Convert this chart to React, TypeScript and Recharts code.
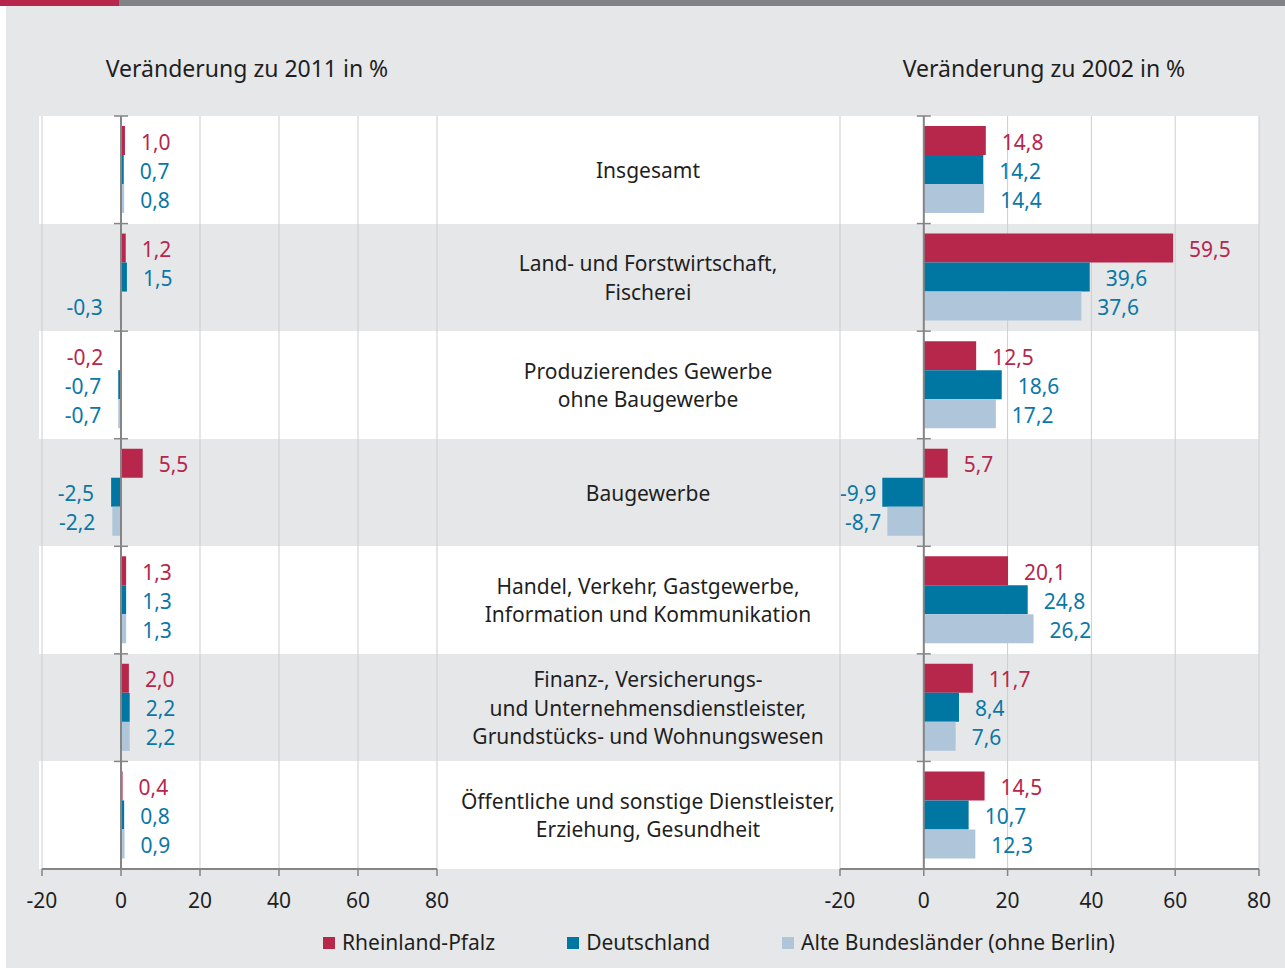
import React from 'react';
import { BarChart, Bar, XAxis, YAxis, CartesianGrid, ReferenceLine, LabelList } from 'recharts';

const categories = [
  'Insgesamt',
  'Land- und Forstwirtschaft,\nFischerei',
  'Produzierendes Gewerbe\nohne Baugewerbe',
  'Baugewerbe',
  'Handel, Verkehr, Gastgewerbe,\nInformation und Kommunikation',
  'Finanz-, Versicherungs-\nund Unternehmensdienstleister,\nGrundstücks- und Wohnungswesen',
  'Öffentliche und sonstige Dienstleister,\nErziehung, Gesundheit',
];

// Veränderung zu 2011 in %
const rlp2011 = [1.0, 1.2, -0.2, 5.5, 1.3, 2.0, 0.4];
const de2011 = [0.7, 1.5, -0.7, -2.5, 1.3, 2.2, 0.8];
const abl2011 = [0.8, -0.3, -0.7, -2.2, 1.3, 2.2, 0.9];

// Veränderung zu 2002 in %
const rlp2002 = [14.8, 59.5, 12.5, 5.7, 20.1, 11.7, 14.5];
const de2002 = [14.2, 39.6, 18.6, -9.9, 24.8, 8.4, 10.7];
const abl2002 = [14.4, 37.6, 17.2, -8.7, 26.2, 7.6, 12.3];

const xTicks = [-20, 0, 20, 40, 60, 80];
const seriesNames = ['Rheinland-Pfalz', 'Deutschland', 'Alte Bundesländer (ohne Berlin)'];

const RED = '#b7264b';
const BLUE = '#0076a3';
const LIGHT = '#aec5da';
const LABEL_BLUE = '#0a78a7';
const AXIS = '#858585';
const TEXT = '#1f1f1f';
const BG = '#e6e7e9';
const seriesColors = [RED, BLUE, LIGHT];

const PLOT_TOP = 116;
const PLOT_BOTTOM = 869;
const CHART_H = 930;
const XAXIS_H = 50;

const data2011 = categories.map((cat, i) => ({ cat, rlp: rlp2011[i], de: de2011[i], abl: abl2011[i] }));
const data2002 = categories.map((cat, i) => ({ cat, rlp: rlp2002[i], de: de2002[i], abl: abl2002[i] }));

const fmt = (v: number) => v.toFixed(1).replace('.', ',');

const makeLabel = (color: string, negOffset: number) => (props: any) => {
  const { x, y, width, height, value } = props;
  const v = Number(value);
  const a = Number(x);
  const b = Number(x) + Number(width);
  const neg = v < 0;
  const end = neg ? Math.min(a, b) : Math.max(a, b);
  return (
    <text
      x={neg ? end - negOffset : end + 16}
      y={Number(y) + Number(height) / 2 + 1}
      textAnchor={neg ? 'end' : 'start'}
      dominantBaseline="central"
      fontSize={21}
      fill={color}
    >
      {fmt(v)}
    </text>
  );
};

const ZeroAxis = (props: any) => {
  const { x1, y1, x2, y2 } = props;
  const n = categories.length;
  const ticks = [];
  for (let i = 0; i <= n; i++) {
    const y = y1 + ((y2 - y1) * i) / n;
    ticks.push(<line key={i} x1={x1 - 7} x2={x1 + 7} y1={y} y2={y} stroke={AXIS} strokeWidth={1.5} />);
  }
  return (
    <g>
      <line x1={x1} y1={y1} x2={x2} y2={y2} stroke={AXIS} strokeWidth={2} />
      {ticks}
    </g>
  );
};

const CategoryTick = (props: any) => {
  const { y, payload } = props;
  const lines = String(payload.value).split('\n');
  const lh = 28.5;
  const start = y - ((lines.length - 1) * lh) / 2;
  return (
    <text x={211} y={start} textAnchor="middle" fontSize={21} fill={TEXT}>
      {lines.map((l, i) => (
        <tspan key={i} x={211} y={start + i * lh} dominantBaseline="central">
          {l}
        </tspan>
      ))}
    </text>
  );
};

function Panel({ data, negOffset, withCats }: { data: any[]; negOffset: number; withCats: boolean }) {
  const width = withCats ? 848 : 460;
  const margin = withCats
    ? { top: PLOT_TOP, right: 26, left: 0, bottom: CHART_H - PLOT_BOTTOM - XAXIS_H }
    : { top: PLOT_TOP, right: 23, left: 42, bottom: CHART_H - PLOT_BOTTOM - XAXIS_H };
  return (
    <BarChart
      width={width}
      height={CHART_H}
      data={data}
      layout="vertical"
      margin={margin}
      barCategoryGap={10}
      barGap={0}
    >
      <CartesianGrid horizontal={false} stroke="#cdcdcd" />
      <XAxis
        type="number"
        domain={[-20, 80]}
        ticks={xTicks}
        height={XAXIS_H}
        axisLine={{ stroke: AXIS, strokeWidth: 2 }}
        tickLine={{ stroke: AXIS, strokeWidth: 1.5 }}
        tickSize={7}
        tickMargin={17}
        tick={{ fill: TEXT, fontSize: 21 }}
        allowDataOverflow
      />
      <YAxis
        type="category"
        dataKey="cat"
        hide={!withCats}
        width={withCats ? 403 : 0}
        axisLine={false}
        tickLine={false}
        tick={<CategoryTick />}
        interval={0}
      />
      <Bar dataKey="rlp" name={seriesNames[0]} fill={RED} isAnimationActive={false}>
        <LabelList dataKey="rlp" content={makeLabel(RED, negOffset)} />
      </Bar>
      <Bar dataKey="de" name={seriesNames[1]} fill={BLUE} isAnimationActive={false}>
        <LabelList dataKey="de" content={makeLabel(LABEL_BLUE, negOffset)} />
      </Bar>
      <Bar dataKey="abl" name={seriesNames[2]} fill={LIGHT} isAnimationActive={false}>
        <LabelList dataKey="abl" content={makeLabel(LABEL_BLUE, negOffset)} />
      </Bar>
      <ReferenceLine x={0} shape={<ZeroAxis />} />
    </BarChart>
  );
}

export default function App() {
  const bandH = (PLOT_BOTTOM - PLOT_TOP) / categories.length;
  return (
    <div
      style={{
        position: 'absolute',
        left: 0,
        top: 0,
        width: 1285,
        height: 968,
        background: '#ffffff',
        fontFamily: '"Noto Sans", sans-serif',
        overflow: 'hidden',
      }}
    >
      <div style={{ position: 'absolute', left: 6, top: 6, width: 1279, height: 962, background: BG }} />
      <div style={{ position: 'absolute', left: 0, top: 0, width: 119, height: 6, background: '#b7264b' }} />
      <div style={{ position: 'absolute', left: 119, top: 0, width: 1166, height: 6, background: '#818286' }} />
      {categories.map((c, i) => (
        <div
          key={c}
          style={{
            position: 'absolute',
            left: 39,
            top: PLOT_TOP + i * bandH,
            width: 1220,
            height: bandH,
            background: i % 2 === 0 ? '#ffffff' : BG,
          }}
        />
      ))}
      <div style={{ position: 'absolute', left: 47, top: 57, width: 400, textAlign: 'center', fontSize: 23, lineHeight: '23px', color: TEXT }}>
        Veränderung zu 2011 in %
      </div>
      <div style={{ position: 'absolute', left: 844, top: 57, width: 400, textAlign: 'center', fontSize: 23, lineHeight: '23px', color: TEXT }}>
        Veränderung zu 2002 in %
      </div>
      <div style={{ position: 'absolute', left: 0, top: 0 }}>
        <Panel data={data2011} negOffset={17} withCats={false} />
      </div>
      <div style={{ position: 'absolute', left: 437, top: 0 }}>
        <Panel data={data2002} negOffset={6} withCats={true} />
      </div>
      <div style={{ position: 'absolute', left: 323, top: 932, display: 'flex', alignItems: 'center', fontSize: 21, lineHeight: '21px', color: TEXT }}>
        {seriesNames.map((n, i) => (
          <div key={n} style={{ display: 'flex', alignItems: 'center', marginRight: 72 }}>
            <span style={{ display: 'inline-block', width: 12, height: 12, background: seriesColors[i], marginRight: 7 }} />
            <span>{n}</span>
          </div>
        ))}
      </div>
    </div>
  );
}
